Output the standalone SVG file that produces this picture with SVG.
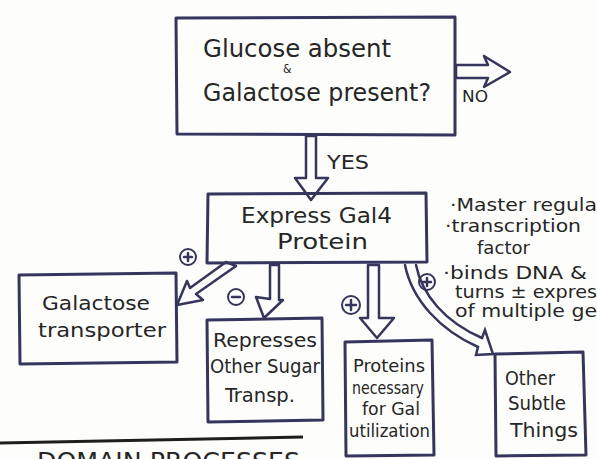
<svg xmlns="http://www.w3.org/2000/svg" width="597" height="459" viewBox="0 0 597 459">
<defs>
<style>
.bg{fill:#fdfdfb}
.box{fill:none;stroke:#35355e;stroke-width:3;stroke-linejoin:round}
.arr{fill:#fdfdfb;stroke:#35355e;stroke-width:2.5;stroke-linejoin:round}
.ln{fill:none;stroke:#35355e;stroke-width:2.5;stroke-linecap:round}
.t{font-family:"DejaVu Sans Condensed","Liberation Sans",sans-serif;fill:#262626}
.big{font-size:24px}
.mid{font-size:19px}
.small{font-size:17px}
.sm{font-size:18px}
.sign{fill:none;stroke:#35355e;stroke-width:2}
</style>
</defs>
<rect class="bg" x="0" y="0" width="597" height="459"/>

<g id="connectors">
  <!-- NO -->
  <path class="arr" d="M456,65 L488,65 L484,56 L510,72 L484,87 L488,78 L456,78 Z"/>
  <text class="t" x="462" y="102" font-size="16" textLength="26" lengthAdjust="spacingAndGlyphs">NO</text>
  <!-- YES -->
  <path class="arr" d="M306,136 L306,178 L295,178 L311,200 L328,178 L316,178 L316,136 Z"/>
  <text class="t" x="327" y="169" font-size="19" textLength="42" lengthAdjust="spacingAndGlyphs">YES</text>
  <!-- to Galactose transporter -->
  <path class="arr" d="M226,262 L190,288 L187,281 L177,305 L203,300 L196,294 L236,266 Z"/>
  <circle class="sign" cx="188" cy="257" r="8"/>
  <path class="ln" d="M184,257 H192 M188,253 V261" stroke-width="2"/>
  <!-- to Represses -->
  <path class="arr" d="M270,265 L270,299 L256,297 L264,318 L283,300 L279,300 L279,265 Z"/>
  <circle class="sign" cx="236" cy="297" r="8"/>
  <path class="ln" d="M232,297 H240" stroke-width="2"/>
  <!-- to Proteins -->
  <path class="arr" d="M368,265 L368,318 L360,318 L377,338 L394,318 L379,318 L379,265 Z"/>
  <circle class="sign" cx="351" cy="305" r="9"/>
  <path class="ln" d="M346,305 H356 M351,300 V310" stroke-width="2"/>
  <!-- to Other Subtle Things -->
  <path class="ln" d="M405,265 C412,300 440,330 478,347"/>
  <path class="ln" d="M416,265 C422,295 445,322 482,338"/>
  <path class="ln" d="M478,347 L476,355 L493,354 L485,330 L482,338"/>
  <circle class="sign" cx="427" cy="282" r="8"/>
  <path class="ln" d="M423,282 H431 M427,278 V286" stroke-width="2"/>
</g>

<g id="decision">
  <path class="box" d="M176,18 L455,17 L455,135 L177,134 Z"/>
  <text class="t big" x="203" y="57" textLength="188" lengthAdjust="spacingAndGlyphs">Glucose absent</text>
  <text class="t" x="283" y="73" font-size="12">&amp;</text>
  <text class="t big" x="203" y="101" textLength="228" lengthAdjust="spacingAndGlyphs">Galactose present?</text>
</g>

<g id="gal4">
  <path class="box" d="M208,194 L426,193 L427,262 L207,263 Z"/>
  <text class="t" font-size="22" x="241" y="223" textLength="151" lengthAdjust="spacingAndGlyphs">Express Gal4</text>
  <text class="t" font-size="22" x="277" y="249" textLength="91" lengthAdjust="spacingAndGlyphs">Protein</text>
</g>

<g id="notes">
  <text class="t sm" x="450" y="211" textLength="147" lengthAdjust="spacingAndGlyphs">·Master regula</text>
  <text class="t sm" x="445" y="232" textLength="136" lengthAdjust="spacingAndGlyphs">·transcription</text>
  <text class="t sm" x="477" y="254" textLength="53" lengthAdjust="spacingAndGlyphs">factor</text>
  <text class="t sm" x="443" y="279" textLength="144" lengthAdjust="spacingAndGlyphs">·binds DNA &amp;</text>
  <text class="t sm" x="455" y="298" textLength="142" lengthAdjust="spacingAndGlyphs">turns ± expres</text>
  <text class="t sm" x="455" y="317" textLength="142" lengthAdjust="spacingAndGlyphs">of multiple ge</text>
</g>

<g id="galactose-transporter">
  <path class="box" d="M19,275 L176,273 L177,362 L20,364 Z"/>
  <text class="t mid" x="42" y="310" textLength="108" lengthAdjust="spacingAndGlyphs">Galactose</text>
  <text class="t mid" x="38" y="337" textLength="128" lengthAdjust="spacingAndGlyphs">transporter</text>
</g>

<g id="represses">
  <path class="box" d="M207,320 L322,318 L323,420 L208,422 Z"/>
  <text class="t mid" x="213" y="347" textLength="104" lengthAdjust="spacingAndGlyphs">Represses</text>
  <text class="t mid" x="210" y="373" textLength="110" lengthAdjust="spacingAndGlyphs">Other Sugar</text>
  <text class="t mid" x="225" y="402" textLength="70" lengthAdjust="spacingAndGlyphs">Transp.</text>
</g>

<g id="proteins">
  <path class="box" d="M345,342 L432,340 L434,455 L346,456 Z"/>
  <text class="t small" x="353" y="372" textLength="72" lengthAdjust="spacingAndGlyphs">Proteins</text>
  <text class="t small" x="352" y="394" textLength="72" lengthAdjust="spacingAndGlyphs">necessary</text>
  <text class="t small" x="362" y="415" textLength="58" lengthAdjust="spacingAndGlyphs">for Gal</text>
  <text class="t small" x="349" y="437" textLength="81" lengthAdjust="spacingAndGlyphs">utilization</text>
</g>

<g id="other">
  <path class="box" d="M495,354 L583,352 L586,455 L496,456 Z"/>
  <text class="t mid" x="505" y="385" textLength="50" lengthAdjust="spacingAndGlyphs">Other</text>
  <text class="t mid" x="508" y="410" textLength="58" lengthAdjust="spacingAndGlyphs">Subtle</text>
  <text class="t mid" x="510" y="437" textLength="68" lengthAdjust="spacingAndGlyphs">Things</text>
</g>

<g id="footer">
  <path d="M0,443 L303,437" stroke="#1e1e1e" stroke-width="3" fill="none"/>
  <text class="t" x="37" y="470" font-size="24" textLength="263" lengthAdjust="spacingAndGlyphs">DOMAIN PROCESSES</text>
</g>
</svg>
